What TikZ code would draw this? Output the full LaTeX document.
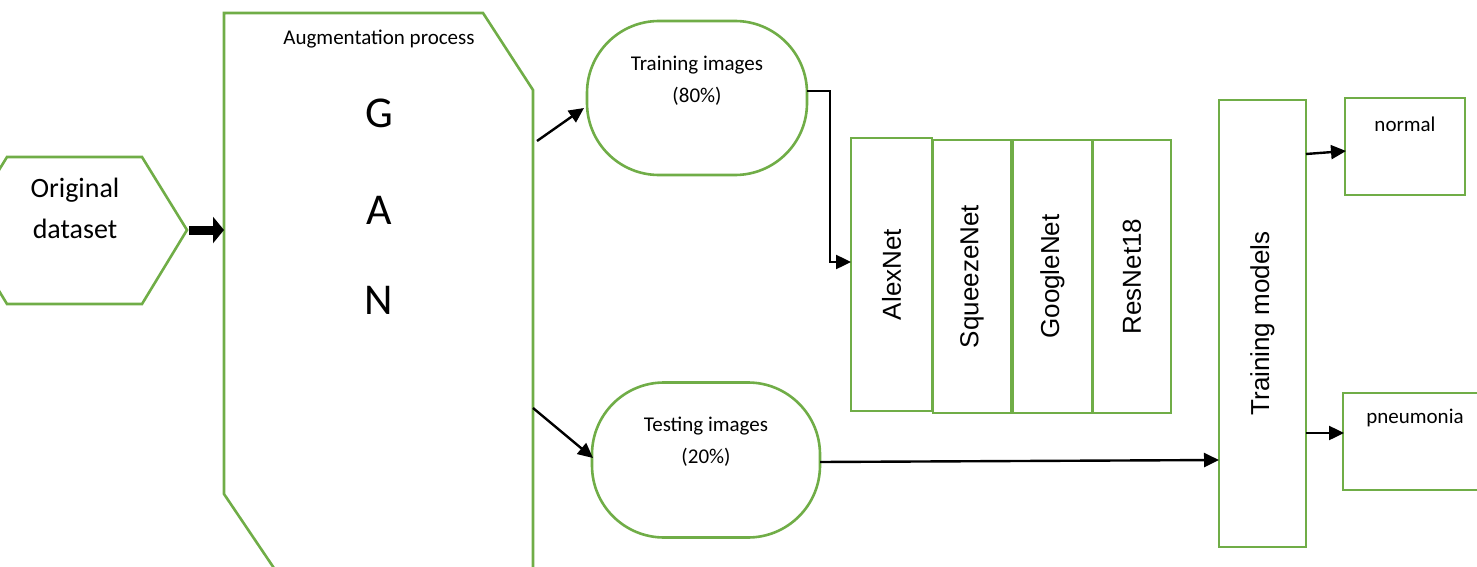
\documentclass[tikz,border=0pt]{standalone}
\usepackage{fontspec}
\setmainfont{Carlito}
\newfontfamily\arialf{Liberation Sans}
\usetikzlibrary{arrows.meta}
\definecolor{lgreen}{HTML}{70AD47}
\tikzset{
  gline/.style={draw=lgreen, line width=2.6pt, line join=miter},
  gbox/.style={gline, rectangle, inner sep=0pt},
  stadium/.style={gline, rectangle, rounded corners=72pt, inner sep=0pt},
  mbox/.style={gbox, rotate=90, font=\arialf\fontsize{26}{30}\selectfont},
  arr/.style={draw=black, line width=2.4pt, -{Triangle[length=15pt,width=14pt]}},
  fatarr/.style={draw=black, line width=9pt, -{Triangle[length=11pt,width=26pt]}},
  txt/.style={align=center, inner sep=0pt, font=\fontsize{21}{32}\selectfont},
}
\begin{document}
\begin{tikzpicture}[x=1pt,y=-1pt]
\useasboundingbox (0,0) rectangle (1477,567);
\clip (0,0) rectangle (1477,567);
% original dataset hexagon
\draw[gline] (7,157) -- (142,157) -- (187,230) -- (142,304) -- (7,304) -- (-38,230) -- cycle;
\node[align=center, inner sep=0pt, font=\fontsize{28}{41}\selectfont] (orig) at (75,208) {Original\\dataset};
\coordinate (origE) at (189,230);
% augmentation shape
\draw[gline] (224,13) -- (483,13) -- (533,90) -- (533,620) -- (309,620) -- (224,494) -- cycle;
\coordinate (augW) at (224,230);
\coordinate (augE1) at (537,141);
\coordinate (augE2) at (533,408);
\node[txt] (augt) at (379,39) {Augmentation process};
\node[inner sep=0pt, font=\fontsize{44}{44}\selectfont] (g) at (379,113) {G};
\node[inner sep=0pt, font=\fontsize{44}{44}\selectfont] (a) at (379,210) {A};
\node[inner sep=0pt, font=\fontsize{44}{44}\selectfont] (n) at (379,300) {N};
% training / testing
\node[stadium, minimum width=220pt, minimum height=154pt] (train) at (697,98) {};
\node[txt] (traint) at (697,81) {Training images\\(80\%)};
\node[stadium, minimum width=228pt, minimum height=155pt] (test) at (706,460) {};
\node[txt] (testt) at (706,442) {Testing images\\(20\%)};
% model boxes
\node[mbox, minimum width=273pt, minimum height=81pt] (alex) at (891.5,274.5) {AlexNet};
\node[mbox, minimum width=273pt, minimum height=78pt] (squeeze) at (972,276.5) {SqueezeNet};
\node[mbox, minimum width=273pt, minimum height=79pt] (google) at (1052.5,276.5) {GoogleNet};
\node[mbox, minimum width=273pt, minimum height=78pt] (resnet) at (1132,276.5) {ResNet18};
\node[mbox, minimum width=447pt, minimum height=87pt] (tmodels) at (1262.5,323.5) {Training models};
% outputs
\node[gbox, minimum width=120pt, minimum height=97pt] (normal) at (1405,146.5) {};
\node[txt] (normalt) at (1405,124) {normal};
\node[gbox, minimum width=150pt, minimum height=97pt] (pneu) at (1418,441.5) {};
\node[txt] (pneut) at (1415,418) {pneumonia};
% connectors
\coordinate (trainE) at (807,91);
\coordinate (elbow) at (830,91);
\coordinate (alexW) at (851,262);
\coordinate (trainW) at (584,108);
\coordinate (testW) at (593,458);
\coordinate (testE) at (820,462);
\coordinate (tmW) at (1219,460);
\coordinate (tmE1) at (1306,154);
\coordinate (normalW) at (1346,151);
\coordinate (tmE2) at (1306,433);
\coordinate (pneuW) at (1344,433);
\draw[fatarr] (origE) -- (augW);
\draw[arr] (augE1) -- (trainW);
\draw[arr] (augE2) -- (testW);
\draw[arr] (trainE) -- (elbow) |- (alexW);
\draw[arr] (testE) -- (tmW);
\draw[arr] (tmE1) -- (normalW);
\draw[arr] (tmE2) -- (pneuW);
\end{tikzpicture}
\end{document}
